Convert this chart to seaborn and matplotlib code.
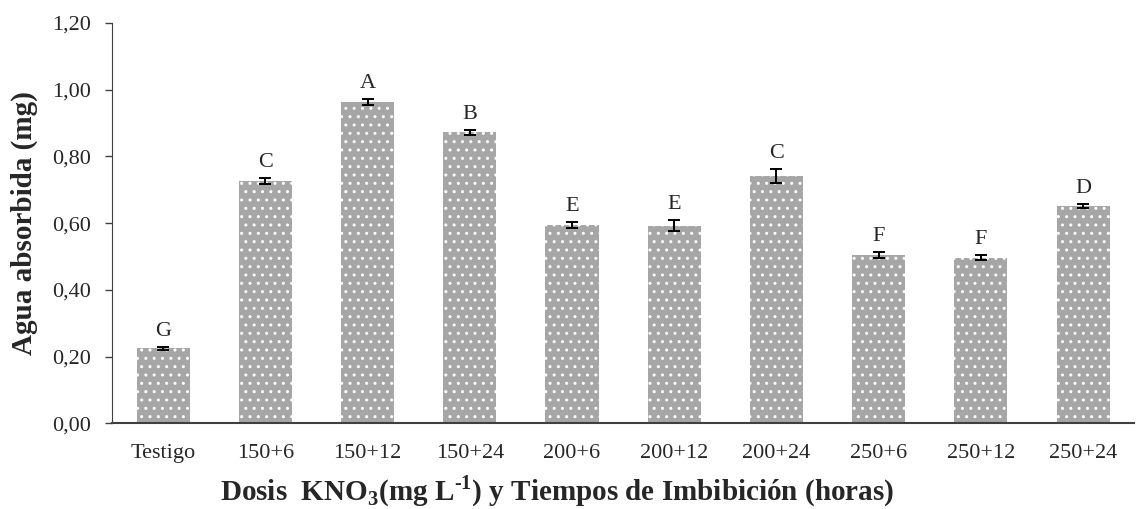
import numpy as np
import pandas as pd
import seaborn as sns
import matplotlib.pyplot as plt

tratamientos = ['Testigo', '150+6', '150+12', '150+24', '200+6', '200+12',
                '200+24', '250+6', '250+12', '250+24']
agua = [0.225, 0.727, 0.963, 0.872, 0.595, 0.593, 0.740, 0.505, 0.497, 0.652]
error = [0.005, 0.009, 0.010, 0.007, 0.008, 0.017, 0.021, 0.010, 0.008, 0.006]
letras = ['G', 'C', 'A', 'B', 'E', 'E', 'C', 'F', 'F', 'D']

sns.set_style("white")
plt.rcParams['font.family'] = ['Liberation Serif', 'DejaVu Serif']
plt.rcParams['mathtext.fontset'] = 'custom'
plt.rcParams['mathtext.rm'] = 'Liberation Serif'
plt.rcParams['mathtext.bf'] = 'Liberation Serif:bold'
plt.rcParams['hatch.linewidth'] = 1.0

df = pd.DataFrame({'trat': tratamientos, 'agua': agua, 'err': error, 'letra': letras})

fig, ax = plt.subplots(figsize=(11.48, 5.09), dpi=100)
fig.subplots_adjust(left=0.0976, right=0.988, top=0.955, bottom=0.168)

sns.barplot(data=df, x='trat', y='agua', color='#A6A6A6', saturation=1,
            width=0.52, ax=ax, errorbar=None)

for patch in ax.patches:
    patch.set_hatch('..')
    patch.set_edgecolor('white')
    patch.set_linewidth(0)

xs = [p.get_x() + p.get_width() / 2 for p in ax.patches]
ax.errorbar(xs, df['agua'], yerr=df['err'], fmt='none', ecolor='black',
            elinewidth=1.4, capsize=4.5, capthick=1.4)

for x, y, e, l in zip(xs, df['agua'], df['err'], df['letra']):
    ax.text(x, y + e + 0.018, l, ha='center', va='bottom', fontsize=16)

ax.set_ylim(0, 1.2)
ax.set_xlim(-0.5, len(tratamientos) - 0.5)
ticks = np.arange(0, 1.21, 0.2)
ax.set_yticks(ticks)
ax.set_yticklabels(['{:.2f}'.format(t).replace('.', ',') for t in ticks])
ax.tick_params(axis='y', which='both', left=True, length=5, width=1,
               color='#404040', labelsize=16, pad=10)
ax.tick_params(axis='x', bottom=False, labelsize=16, pad=11)

for s in ['top', 'right']:
    ax.spines[s].set_visible(False)
ax.spines['left'].set_color('#404040')
ax.spines['bottom'].set_color('#404040')
ax.spines['bottom'].set_linewidth(1.5)

ax.set_ylabel('Agua absorbida (mg)', fontsize=21, fontweight='bold', labelpad=10)
ax.set_xlabel('Dosis  KNO$_\\mathbf{3}$(mg L$^\\mathbf{\u20101}$) y Tiempos de Imbibición (horas)',
              fontsize=21, fontweight='bold')
ax.xaxis.set_label_coords(0.435, -0.125)

plt.savefig('out.png', dpi=100)
